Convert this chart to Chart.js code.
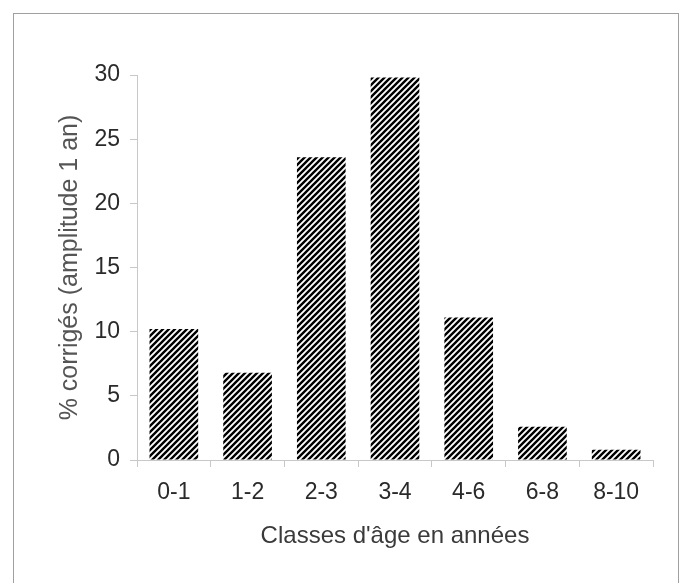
<!DOCTYPE html>
<html lang="fr">
  <head>
    <meta charset="UTF-8" />
    <title>Classes d'âge</title>
    <script src="https://cdn.jsdelivr.net/npm/chart.js"></script>
    <style>
      body {
        margin: 0;
        background: #fff;
      }
      #ageChart {
        display: block;
      }
    </style>
  </head>

  <body>
    <canvas id="ageChart" width="682" height="583"></canvas>

    <script>
      const classes = ["0-1", "1-2", "2-3", "3-4", "4-6", "6-8", "8-10"];
      const pourcentages = [10.2, 6.8, 23.6, 29.8, 11.1, 2.6, 0.8];
      const yTicks = [0, 5, 10, 15, 20, 25, 30];

      // hachures diagonales noires
      function makeHatch() {
        const tile = document.createElement("canvas");
        tile.width = 6;
        tile.height = 6;
        const c = tile.getContext("2d");
        c.fillStyle = "#fff";
        c.fillRect(0, 0, 6, 6);
        c.strokeStyle = "#000";
        c.lineWidth = 2.4;
        c.beginPath();
        c.moveTo(-1, 7);
        c.lineTo(7, -1);
        c.moveTo(-4, 4);
        c.lineTo(4, -4);
        c.moveTo(2, 10);
        c.lineTo(10, 2);
        c.stroke();
        return c.createPattern(tile, "repeat");
      }

      const framePlugin = {
        id: "frame",
        beforeDraw(chart) {
          const ctx = chart.ctx;
          ctx.save();
          ctx.fillStyle = "#fff";
          ctx.fillRect(0, 0, chart.width, chart.height);
          ctx.strokeStyle = "#a0a0a0";
          ctx.lineWidth = 1;
          ctx.strokeRect(13.5, 13.5, 665, 620);
          ctx.restore();
        },
      };

      const ctx = document.getElementById("ageChart").getContext("2d");
      const ageChart = new Chart(ctx, {
        type: "bar",
        data: {
          labels: classes,
          datasets: [
            {
              data: pourcentages,
              backgroundColor: makeHatch(),
              borderWidth: 0,
              barPercentage: 0.66,
              categoryPercentage: 1,
            },
          ],
        },
        plugins: [framePlugin],
        options: {
          responsive: false,
          animation: false,
          layout: {
            padding: { top: 75, right: 29, left: 0, bottom: 0 },
          },
          plugins: {
            legend: { display: false },
            tooltip: { enabled: false },
          },
          scales: {
            x: {
              grid: {
                display: true,
                drawOnChartArea: false,
                offset: true,
                tickLength: 7,
                color: "#c8c8c8",
              },
              border: { color: "#c8c8c8" },
              ticks: {
                padding: 12,
                color: "#2a2a2a",
                font: { family: "Liberation Sans", size: 23 },
              },
              title: {
                display: true,
                text: "Classes d'âge en années",
                color: "#3a3a3a",
                font: { family: "Liberation Sans", size: 24 },
                padding: { top: 0, bottom: 32 },
              },
              afterFit(scale) {
                scale.height = 123;
              },
            },
            y: {
              min: 0,
              max: 30,
              afterBuildTicks(scale) {
                scale.ticks = yTicks.map((v) => ({ value: v }));
              },
              grid: {
                display: true,
                drawOnChartArea: false,
                tickLength: 7,
                color: "#c8c8c8",
              },
              border: { color: "#c8c8c8" },
              ticks: {
                padding: 10,
                color: "#2a2a2a",
                font: { family: "Liberation Sans", size: 23 },
              },
              title: {
                display: true,
                text: "% corrigés (amplitude 1 an)",
                color: "#555",
                font: { family: "Liberation Sans", size: 25 },
                padding: { top: 55, bottom: 0 },
              },
              afterFit(scale) {
                scale.width = 137;
              },
            },
          },
        },
      });
    </script>
  </body>
</html>
